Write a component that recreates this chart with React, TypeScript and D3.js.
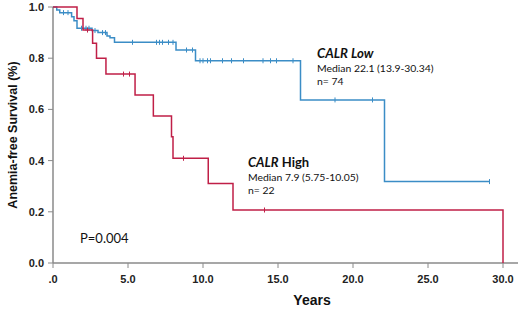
import React from "react";
import * as d3 from "d3";

const lowTimes = [0, 0.25, 0.45, 1.24, 1.4, 1.6, 2.6, 3.0, 3.6, 3.8, 4.1, 8.2, 9.5, 16.5, 22.1];
const lowSurv = [1.0, 0.988, 0.978, 0.962, 0.946, 0.917, 0.908, 0.9, 0.887, 0.88, 0.862, 0.832, 0.79, 0.637, 0.318];
const lowEnd = 29.1;
const lowCensor = [0.7, 1.0, 1.9, 2.2, 2.4, 2.8, 3.3, 3.5, 5.3, 6.9, 7.1, 7.3, 7.7, 8.0, 8.9, 9.3, 9.8, 10.0, 10.3, 10.5, 11.3, 11.9, 12.7, 14.0, 14.5, 14.9, 16.0, 18.8, 21.3, 29.1];

const highTimes = [0, 1.6, 2.0, 2.64, 2.9, 3.53, 5.47, 6.69, 7.9, 8.0, 10.35, 12.0, 30.0];
const highSurv = [1.0, 0.955, 0.91, 0.858, 0.8, 0.738, 0.656, 0.574, 0.493, 0.409, 0.311, 0.207, 0.0];
const highEnd = 30.0;
const highCensor = [2.3, 4.7, 5.1, 8.7, 14.1];

const xTicks = [0, 5, 10, 15, 20, 25, 30];
const xTickLabels = [".0", "5.0", "10.0", "15.0", "20.0", "25.0", "30.0"];
const yTicks = [0, 0.2, 0.4, 0.6, 0.8, 1.0];

const BLUE = "#3b8dc6";
const RED = "#c01f47";
const AXIS = "#8a8a8a";

function stepPath(times: number[], surv: number[], end: number, x: any, y: any) {
  let d = `M${x(times[0])},${y(surv[0])}`;
  for (let i = 1; i < times.length; i++) {
    d += `H${x(times[i])}V${y(surv[i])}`;
  }
  d += `H${x(end)}`;
  return d;
}

function survAt(times: number[], surv: number[], t: number) {
  let s = surv[0];
  for (let i = 0; i < times.length; i++) if (times[i] <= t) s = surv[i];
  return s;
}

export default function App() {
  const x = d3.scaleLinear().domain([0, 30]).range([53, 503]);
  const y = d3.scaleLinear().domain([0, 1]).range([263, 7]);
  const annot = "Lato, 'Open Sans', sans-serif";
  const axisFont = "'Liberation Sans', Arial, sans-serif";
  return (
    <svg width={520} height={312} style={{ position: "absolute", left: 0, top: 0, background: "#fff" }}>
      {/* axes */}
      <line x1={53} y1={y(1)} x2={53} y2={263} stroke={AXIS} strokeWidth={1.5} />
      <line x1={53} y1={263} x2={518} y2={263} stroke={AXIS} strokeWidth={1.5} />
      {yTicks.map((t) => (
        <g key={"y" + t}>
          <line x1={48} x2={53} y1={y(t)} y2={y(t)} stroke={AXIS} />
          <text x={44} y={y(t) + 4} textAnchor="end" fontFamily={axisFont} fontSize={11} fontWeight="bold" fill="#222">
            {t.toFixed(1)}
          </text>
        </g>
      ))}
      {xTicks.map((t, i) => (
        <g key={"x" + t}>
          <line x1={x(t)} x2={x(t)} y1={263} y2={268} stroke={AXIS} />
          <text x={x(t)} y={283} textAnchor="middle" fontFamily={axisFont} fontSize={11} fontWeight="bold" fill="#222">
            {xTickLabels[i]}
          </text>
        </g>
      ))}
      <text x={312} y={305} textAnchor="middle" fontFamily={axisFont} fontSize={14} fontWeight="bold" fill="#111">Years</text>
      <text transform={`translate(17,${(y(1) + y(0)) / 2}) rotate(-90)`} textAnchor="middle" fontFamily={axisFont} fontSize={12.5} fontWeight="bold" fill="#111">
        Anemia-free Survival (%)
      </text>

      {/* curves */}
      <path d={stepPath(lowTimes, lowSurv, lowEnd, x, y)} fill="none" stroke={BLUE} strokeWidth={1.5} />
      {lowCensor.map((t, i) => (
        <line key={"lc" + i} x1={x(t)} x2={x(t)} y1={y(survAt(lowTimes, lowSurv, t)) - 2.5} y2={y(survAt(lowTimes, lowSurv, t)) + 2.5} stroke={BLUE} strokeWidth={1} />
      ))}
      <path d={stepPath(highTimes, highSurv, highEnd, x, y)} fill="none" stroke={RED} strokeWidth={1.5} />
      {highCensor.map((t, i) => (
        <line key={"hc" + i} x1={x(t)} x2={x(t)} y1={y(survAt(highTimes, highSurv, t)) - 2.5} y2={y(survAt(highTimes, highSurv, t)) + 2.5} stroke={RED} strokeWidth={1} />
      ))}

      {/* annotations */}
      <text x={317} y={58} fontFamily={annot} fontSize={13.2} fontWeight="bold" fontStyle="italic" fill="#111">CALR Low</text>
      <text x={317} y={72} fontFamily={annot} fontSize={10.4} fill="#111">Median 22.1 (13.9-30.34)</text>
      <text x={317} y={84.5} fontFamily={annot} fontSize={10.4} fill="#111">n= 74</text>

      <text x={248} y={167} fontFamily={annot} fontSize={13} fontWeight="bold" fill="#111">
        <tspan fontStyle="italic">CALR</tspan> High
      </text>
      <text x={248} y={181} fontFamily={annot} fontSize={10.4} fill="#111">Median 7.9 (5.75-10.05)</text>
      <text x={248} y={193.5} fontFamily={annot} fontSize={10.4} fill="#111">n= 22</text>

      <text x={80} y={243} fontFamily={annot} fontSize={13} fill="#111">P=0.004</text>
    </svg>
  );
}
